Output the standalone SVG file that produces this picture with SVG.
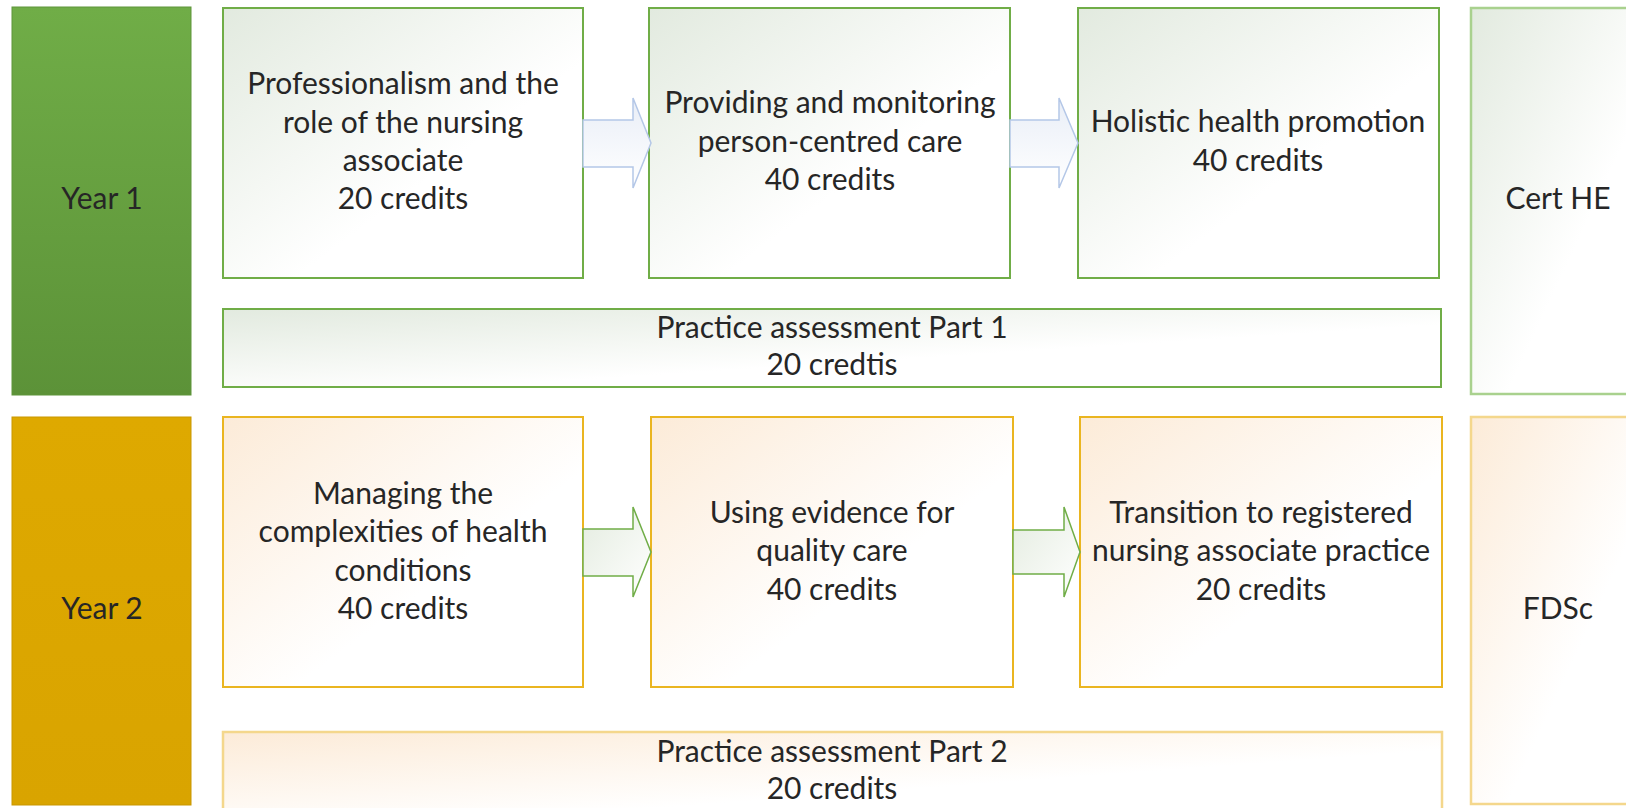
<svg xmlns="http://www.w3.org/2000/svg" width="1626" height="808" viewBox="0 0 1626 808">
<defs>
<linearGradient id="gY1" x1="0" y1="0" x2="0" y2="1"><stop offset="0" stop-color="#70AD47"/><stop offset="1" stop-color="#5C9238"/></linearGradient>
<linearGradient id="gY2" x1="0" y1="0" x2="0" y2="1"><stop offset="0" stop-color="#DEA900"/><stop offset="1" stop-color="#D9A400"/></linearGradient>
<linearGradient id="gG" x1="0" y1="0" x2="1" y2="1"><stop offset="0" stop-color="#E2EADF"/><stop offset="0.6" stop-color="#FFFFFF"/></linearGradient>
<linearGradient id="gO" x1="0" y1="0" x2="1" y2="1"><stop offset="0" stop-color="#FCEBD8"/><stop offset="0.6" stop-color="#FFFFFF"/></linearGradient>
<linearGradient id="gA1" x1="0" y1="0" x2="0" y2="1"><stop offset="0" stop-color="#E9EEF7"/><stop offset="1" stop-color="#FFFFFF"/></linearGradient>
<linearGradient id="gA2" x1="0" y1="0" x2="1" y2="1"><stop offset="0" stop-color="#E4ECE0"/><stop offset="1" stop-color="#FFFFFF"/></linearGradient>
</defs>
<style>
text{font-family:Lato,"Liberation Sans",sans-serif;font-size:30px;fill:#262626;text-anchor:middle}
.g{fill:url(#gG);stroke:#70AD47;stroke-width:2}
.gl{fill:url(#gG);stroke:#A9D18E;stroke-width:2.5}
.o{fill:url(#gO);stroke:#EAB520;stroke-width:2}
.ol{fill:url(#gO);stroke:#F4D78C;stroke-width:2.5}
.a1{fill:url(#gA1);stroke:#B4C7E7;stroke-width:1.5}
.a2{fill:url(#gA2);stroke:#70AD47;stroke-width:1.5}
</style>
<rect width="1626" height="808" fill="#FFFFFF"/>
<g id="year1">
<rect x="12" y="7" width="179" height="388" fill="url(#gY1)" stroke="#5E953A" stroke-width="1"/>
<text x="102" y="209">Year 1</text>
</g>
<g id="m1">
<rect class="g" x="223" y="8" width="360" height="270"/>
<text x="403" y="94">Professionalism and the</text>
<text x="403" y="133">role of the nursing</text>
<text x="403" y="171">associate</text>
<text x="403" y="209">20 credits</text>
</g>
<g id="m2">
<rect class="g" x="649" y="8" width="361" height="270"/>
<text x="830" y="113">Providing and monitoring</text>
<text x="830" y="152">person-centred care</text>
<text x="830" y="190">40 credits</text>
</g>
<g id="m3">
<rect class="g" x="1078" y="8" width="361" height="270"/>
<text x="1258" y="132">Holistic health promotion</text>
<text x="1258" y="171">40 credits</text>
</g>
<g id="pa1">
<rect class="g" x="223" y="309" width="1218" height="78"/>
<text x="832" y="338">Practice assessment Part 1</text>
<text x="832" y="375">20 credtis</text>
</g>
<g id="cert">
<rect class="gl" x="1471" y="8" width="180" height="386"/>
<text x="1558" y="209">Cert HE</text>
</g>
<g id="year2">
<rect x="12" y="417" width="179" height="388" fill="url(#gY2)" stroke="#C99700" stroke-width="1"/>
<text x="102" y="619">Year 2</text>
</g>
<g id="m4">
<rect class="o" x="223" y="417" width="360" height="270"/>
<text x="403" y="504">Managing the</text>
<text x="403" y="542">complexities of health</text>
<text x="403" y="581">conditions</text>
<text x="403" y="619">40 credits</text>
</g>
<g id="m5">
<rect class="o" x="651" y="417" width="362" height="270"/>
<text x="832" y="523">Using evidence for</text>
<text x="832" y="561">quality care</text>
<text x="832" y="600">40 credits</text>
</g>
<g id="m6">
<rect class="o" x="1080" y="417" width="362" height="270"/>
<text x="1261" y="523">Transition to registered</text>
<text x="1261" y="561">nursing associate practice</text>
<text x="1261" y="600">20 credits</text>
</g>
<g id="pa2">
<rect class="ol" x="223" y="732" width="1219" height="90"/>
<text x="832" y="762">Practice assessment Part 2</text>
<text x="832" y="799">20 credits</text>
</g>
<g id="fdsc">
<rect class="ol" x="1471" y="417" width="180" height="387"/>
<text x="1558" y="619">FDSc</text>
</g>
<g id="connectors">
<polygon class="a1" points="583,120 633,120 633,98 651,143 633,188 633,167 583,167"/>
<polygon class="a1" points="1010,120 1059,120 1059,98 1078,143 1059,188 1059,167 1010,167"/>
<polygon class="a2" points="583,529 633,529 633,507 651,552 633,597 633,576 583,576"/>
<polygon class="a2" points="1013,530 1064,530 1064,507 1080,552 1064,597 1064,574 1013,574"/>
</g>
</svg>
